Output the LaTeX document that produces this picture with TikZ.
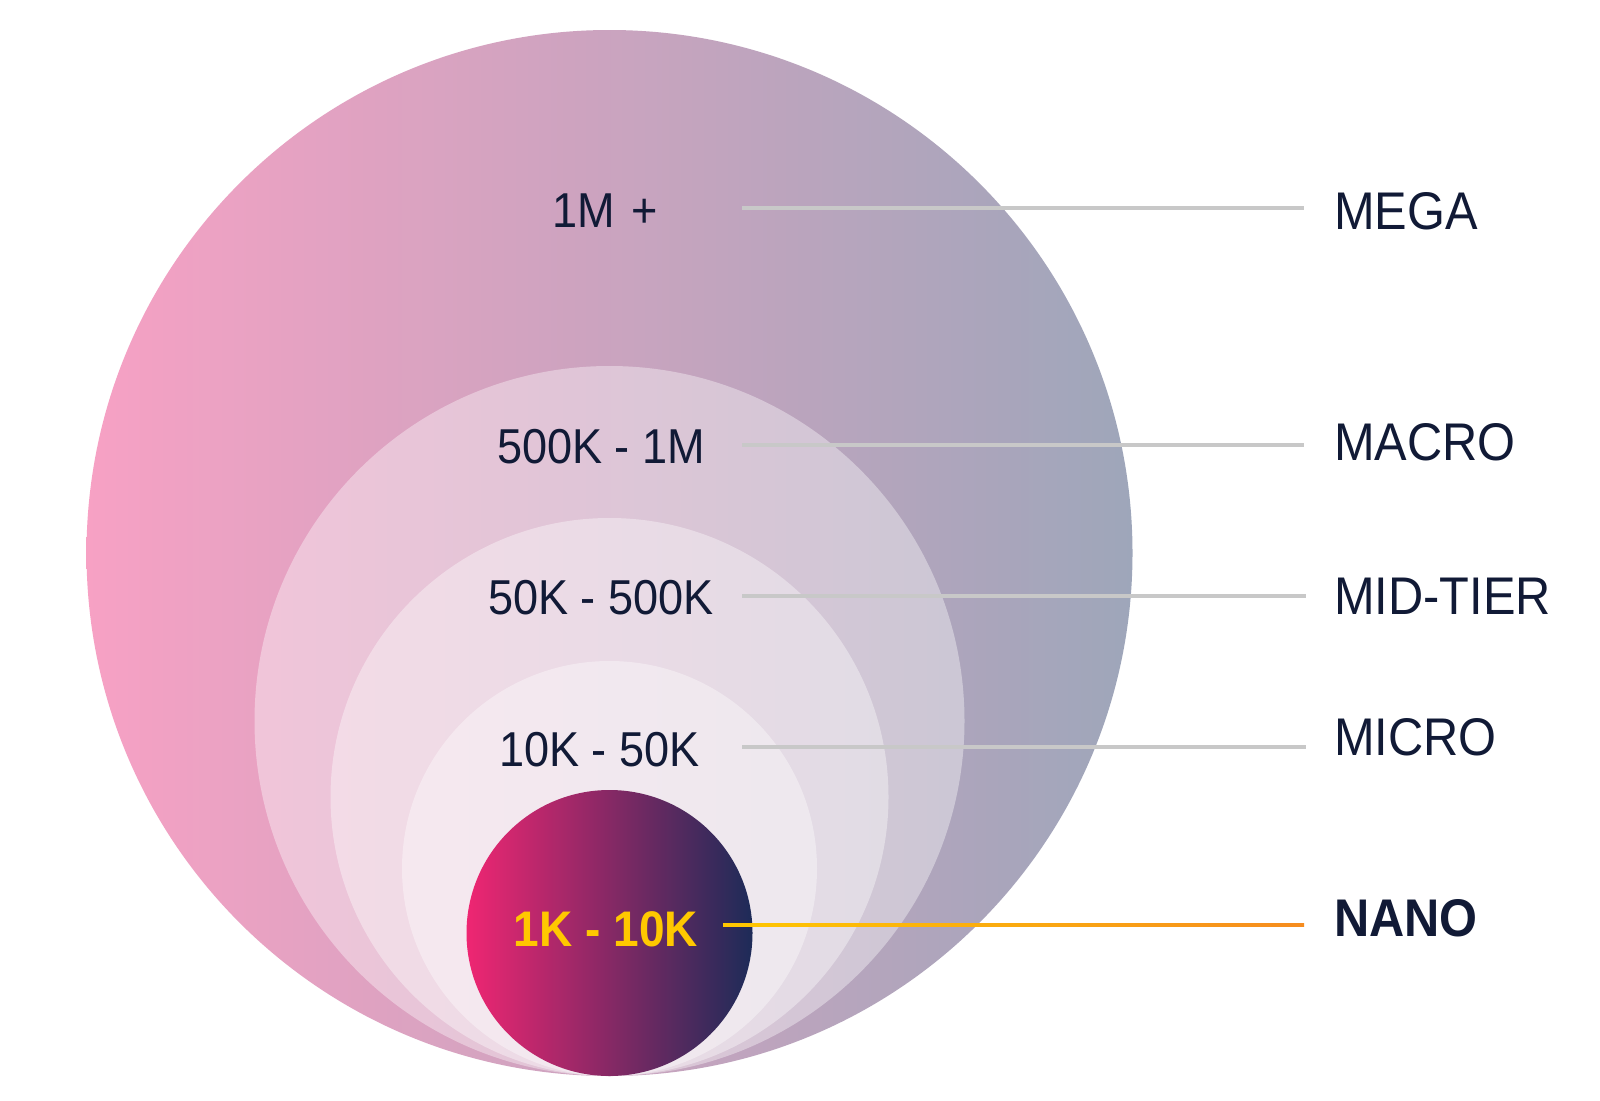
\documentclass[tikz,border=0pt]{standalone}
\usepackage{fontspec}
\setmainfont{Liberation Sans}[FakeStretch=0.92]
\usetikzlibrary{calc}
\definecolor{megaL}{HTML}{F7A1C4}
\definecolor{megaR}{HTML}{9EA6BA}
\definecolor{nanoL}{HTML}{EF2672}
\definecolor{nanoR}{HTML}{1D2B58}
\definecolor{txt}{HTML}{111A36}
\definecolor{rule}{HTML}{C8C8C8}
\definecolor{ylw}{HTML}{FFC800}
\definecolor{orng}{HTML}{F68C1F}
\tikzset{
  ring/.style={circle, inner sep=0pt, fill=white, fill opacity=0.38, draw=none},
  rangelbl/.style={anchor=base, text=txt, inner sep=0pt, font=\fontsize{49}{52}\selectfont},
  tierlbl/.style={anchor=base west, text=txt, inner sep=0pt, font=\fontsize{53}{56}\selectfont},
  leader/.style={draw=rule, line width=3.5pt}
}
\begin{document}
\begin{tikzpicture}[x=1pt,y=-1pt]
\useasboundingbox (0,0) rectangle (1600,1100);
\fill[white] (0,0) rectangle (1600,1100);
% circles
\node[circle, inner sep=0pt, minimum size=1046pt, left color=megaL, right color=megaR] (mega) at (609.5,553) {};
\node[ring, minimum size=710pt] (macro) at (609.5,721) {};
\node[ring, minimum size=558pt] (mid) at (609.5,797) {};
\node[ring, minimum size=415pt] (micro) at (609.5,868.5) {};
\node[circle, inner sep=0pt, minimum size=286pt, left color=nanoL, right color=nanoR] (nano) at (609.5,933) {};
% leader lines
\coordinate (m1s) at (742,208); \coordinate (m1e) at (1304,208);
\coordinate (m2s) at (742,445); \coordinate (m2e) at (1304,445);
\coordinate (m3s) at (742,596); \coordinate (m3e) at (1306,596);
\coordinate (m4s) at (742,747); \coordinate (m4e) at (1306,747);
\coordinate (m5s) at (723,925); \coordinate (m5e) at (1304,925);
\draw[leader] (m1s) -- (m1e);
\draw[leader] (m2s) -- (m2e);
\draw[leader] (m3s) -- (m3e);
\draw[leader] (m4s) -- (m4e);
\shade[left color=ylw, right color=orng] ($(m5s)+(0,-1.75)$) rectangle ($(m5e)+(0,1.75)$);
% range labels
\node[rangelbl] (r1) at (605,227) {1M\,\,+};
\node[rangelbl] (r2) at (601,463) {500K - 1M};
\node[rangelbl] (r3) at (601,614) {50K - 500K};
\node[rangelbl] (r4) at (599.5,766) {10K - 50K};
\node[rangelbl, text=ylw, font=\fontsize{50}{53}\selectfont\bfseries] (r5) at (606,946) {1K - 10K};
% tier labels
\node[tierlbl] (t1) at (1334,229) {MEGA};
\node[tierlbl] (t2) at (1334,460) {MACRO};
\node[tierlbl] (t3) at (1334,614) {MID-TIER};
\node[tierlbl] (t4) at (1334,755) {MICRO};
\node[tierlbl, font=\fontsize{53}{56}\selectfont\bfseries] (t5) at (1334,936) {NANO};
\end{tikzpicture}
\end{document}
